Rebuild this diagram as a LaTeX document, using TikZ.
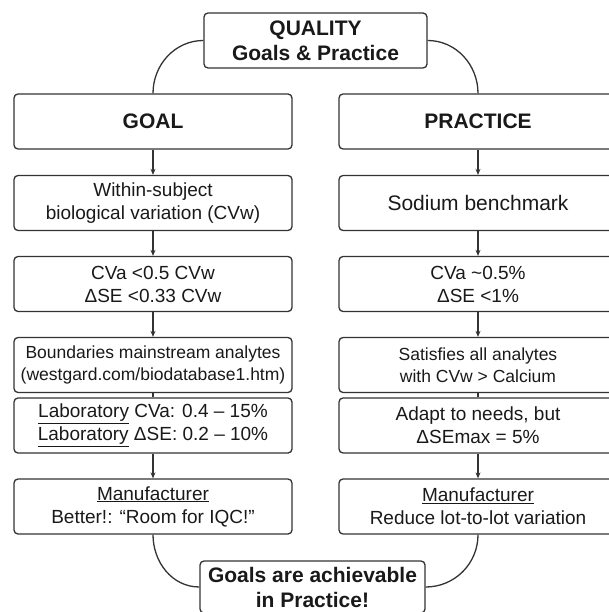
\documentclass[tikz,border=0pt]{standalone}
\usepackage{fontspec}
\setmainfont{Liberation Sans}
\usetikzlibrary{arrows.meta,positioning}

\begin{document}
\begin{tikzpicture}[x=1pt,y=-1pt,
    box/.style={draw=black!80,line width=1.3pt,rounded corners=4pt,align=center,
      minimum width=278pt,minimum height=55pt,inner sep=1pt,text=black!90,
      font=\fontsize{19}{23}\selectfont},
    head/.style={box,font=\fontsize{21}{25}\bfseries\selectfont},
    small/.style={box,font=\fontsize{17.5}{21.5}\selectfont},
    arr/.style={-{Stealth[length=6pt,width=5pt]},line width=1.3pt,draw=black!80},
    link/.style={line width=1.3pt,draw=black!80}]
  \useasboundingbox (0,0) rectangle (608,612);

  % top and bottom
  \node[head,minimum width=223pt] (quality) at (315.5,40.5) {QUALITY\\Goals \& Practice};
  \node[head,minimum width=225pt,minimum height=52pt] (achieve) at (312.5,587) {Goals are achievable\\in Practice!};

  % goal column
  \node[head] (g1) at (153,121.5) {GOAL};
  \node[box]  (g2) at (153,203) {Within-subject\\biological variation (CVw)};
  \node[box]  (g3) at (153,284) {CVa <0.5 CVw\\ΔSE <0.33 CVw};
  \node[small] (g4) at (153,365) {Boundaries mainstream analytes\\(westgard.com/biodatabase1.htm)};
  \node[box]  (g5) at (153,425.5) {\underline{Laboratory} CVa: 0.4 -- 15\%\\\underline{Laboratory} ΔSE: 0.2 -- 10\%};
  \node[box]  (g6) at (153,506.5) {\underline{Manufacturer}\\Better!: “Room for IQC!”};

  % practice column
  \node[head] (p1) at (478,121.5) {PRACTICE};
  \node[box,font=\fontsize{21}{25}\selectfont] (p2) at (478,203) {Sodium benchmark};
  \node[box]  (p3) at (478,284) {CVa \textasciitilde0.5\%\\ΔSE <1\%};
  \node[small] (p4) at (478,365) {Satisfies all analytes\\with CVw > Calcium};
  \node[box]  (p5) at (478,425.5) {Adapt to needs, but\\ΔSEmax = 5\%};
  \node[box]  (p6) at (478,506.5) {\underline{Manufacturer}\\Reduce lot-to-lot variation};

  \foreach \c in {g,p}{
    \draw[arr] (\c1) -- (\c2);
    \draw[arr] (\c2) -- (\c3);
    \draw[arr] (\c3) -- (\c4);
    \draw[link] (\c4) -- (\c5);
    \draw[arr] (\c5) -- (\c6);
  }

  % curved links
  \draw[link] (quality.west) to[out=180,in=90] (g1.north);
  \draw[link] (quality.east) to[out=0,in=90] (p1.north);
  \draw[link] (g6.south) to[out=-90,in=180] (achieve.west);
  \draw[link] (p6.south) to[out=-90,in=0] (achieve.east);
\end{tikzpicture}
\end{document}
